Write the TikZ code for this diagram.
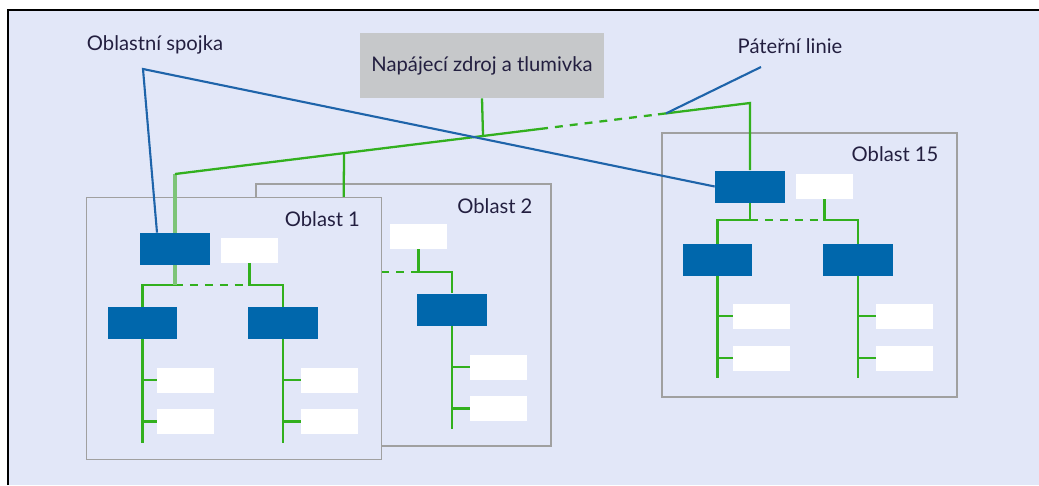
\documentclass[tikz,border=0pt]{standalone}
\usepackage{fontspec}
\setmainfont{Lato}
\usetikzlibrary{calc}
\definecolor{bgcol}{RGB}{226,231,248}
\definecolor{kblue}{RGB}{0,103,172}
\definecolor{kgreen}{RGB}{50,176,30}
\definecolor{klgreen}{RGB}{125,196,120}
\definecolor{kgray}{RGB}{160,160,160}
\definecolor{psugray}{RGB}{198,200,202}
\definecolor{pblue}{RGB}{30,100,170}
\definecolor{txt}{RGB}{35,31,64}
\tikzset{
  area/.style={draw=kgray, line width=0.9pt, fill=bgcol, minimum width=5.9cm, minimum height=5.24cm, inner sep=0},
  coupler/.style={fill=kblue, minimum width=1.4cm, minimum height=0.64cm, inner sep=0},
  dev/.style={fill=white, minimum width=1.14cm, minimum height=0.5cm, inner sep=0},
  bus/.style={draw=kgreen, line width=1.3pt},
  busd/.style={bus, dash pattern=on 4.5pt off 4pt},
  trunk/.style={draw=klgreen, line width=1.8pt},
  pointer/.style={draw=pblue, line width=1.2pt},
  lbl/.style={font=\fontsize{11.5}{13}\selectfont, text=txt, inner sep=0},
}
\begin{document}
\begin{tikzpicture}[x=0.02cm, y=-0.02cm]
\useasboundingbox (0,0) rectangle (1039,485);
\fill[bgcol] (8,10) rectangle (1039,485);
\draw[line width=1.2pt] (8,485) -- (8,10) -- (1039,10);

\coordinate (bbl) at (175,174);
\coordinate (bbr) at (750,103);
\coordinate (bb2) at ($(bbl)!0.294!(bbr)$);
\coordinate (bbp) at ($(bbl)!0.5357!(bbr)$);
\coordinate (bbd1) at ($(bbl)!0.635!(bbr)$);
\coordinate (bbd2) at ($(bbl)!0.84!(bbr)$);
\coordinate (bbt) at ($(bbl)!0.854!(bbr)$);

% Oblast 2
\node[area] (a2) at (403.5,315) {};
\node[lbl, anchor=east] (t2) at ($(a2.north east)+(-19,23)$) {Oblast 2};
\node[dev] (w2) at (418.5,236.5) {};
\node[coupler] (l2) at (452,309.5) {};
\node[dev] (d2a) at (498.5,367) {};
\node[dev] (d2b) at (498.5,408.5) {};
\coordinate (j2) at (343,272);
\coordinate (e2) at (452,429);
\draw[bus] (bb2) -- (j2);
\draw[busd] (j2 -| w2) -- (j2);
\draw[bus] (w2.south) -- (w2.south |- j2) -| (l2.north);
\draw[bus] (l2.south) -- (e2);
\foreach \d in {d2a,d2b} \draw[bus] (\d.west) -- (\d.west -| e2);

% Oblast 1
\node[area] (a1) at (234,328.5) {};
\node[lbl, anchor=east] (t1) at ($(a1.north east)+(-22,22)$) {Oblast 1};
\node[coupler] (c1) at (175,249) {};
\node[dev] (w1) at (249.5,250) {};
\node[coupler] (l1a) at (142.5,323) {};
\node[coupler] (l1b) at (283,323) {};
\node[dev] (d1a) at (185.5,380) {};
\node[dev] (d1b) at (185.5,421.5) {};
\node[dev] (d1c) at (329.5,380) {};
\node[dev] (d1d) at (329.5,421.5) {};
\coordinate (j1) at (175,285);
\coordinate (e1a) at (142.5,443);
\coordinate (e1b) at (283,443);
\draw[busd] (j1) -- (j1 -| w1);
\draw[bus] (l1a.north) |- (j1);
\draw[bus] (w1.south) -- (w1.south |- j1) -| (l1b.north);
\draw[trunk] (c1.south) -- (j1);
\draw[bus] (l1a.south) -- (e1a);
\draw[bus] (l1b.south) -- (e1b);
\foreach \d in {d1a,d1b} \draw[bus] (\d.west) -- (\d.west -| e1a);
\foreach \d in {d1c,d1d} \draw[bus] (\d.west) -- (\d.west -| e1b);

% Oblast 15
\node[area, minimum height=5.28cm] (a15) at (809.5,265) {};
\node[lbl, anchor=east] (t15) at ($(a15.north east)+(-19,22)$) {Oblast 15};
\node[coupler] (c15) at (750,186.5) {};
\node[dev] (w15) at (824.5,186.5) {};
\node[coupler] (l15a) at (717.5,260) {};
\node[coupler] (l15b) at (858,260) {};
\node[dev] (d15a) at (761.5,316) {};
\node[dev] (d15b) at (761.5,358) {};
\node[dev] (d15c) at (904.5,316) {};
\node[dev] (d15d) at (904.5,358) {};
\coordinate (j15) at (750,220);
\coordinate (e15a) at (717.5,378);
\coordinate (e15b) at (858,378);
\draw[busd] (j15) -- (j15 -| w15);
\draw[bus] (c15.south) -- (j15);
\draw[bus] (l15a.north) |- (j15);
\draw[bus] (w15.south) -- (w15.south |- j15) -| (l15b.north);
\draw[bus] (l15a.south) -- (e15a);
\draw[bus] (l15b.south) -- (e15b);
\foreach \d in {d15a,d15b} \draw[bus] (\d.west) -- (\d.west -| e15a);
\foreach \d in {d15c,d15d} \draw[bus] (\d.west) -- (\d.west -| e15b);

% backbone
\node[lbl, fill=psugray, minimum width=4.88cm, minimum height=1.3cm] (psu) at (482,65.5) {Napájecí zdroj a tlumivka};
\draw[trunk] (c1.north) -- (bbl);
\draw[bus] (bbl) -- (bbd1);
\draw[busd] (bbd1) -- (bbd2);
\draw[bus] (bbd2) -- (bbr) -- (c15.north);
\draw[bus] (psu.south) -- (bbp);

\node[lbl] (tsp) at (155,45) {Oblastní spojka};
\node[lbl] (tpl) at (790,46) {Páteřní linie};
\coordinate (sp) at (143,69);
\coordinate (pl) at (761,67);
\draw[pointer] ($(c1.north)+(-18,0)$) -- (sp) -- (c15.west);
\draw[pointer] (pl) -- (bbt);
\end{tikzpicture}
\end{document}
